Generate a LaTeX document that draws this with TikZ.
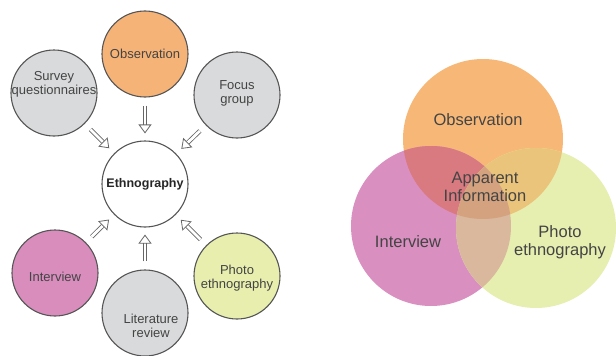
\documentclass[tikz,border=0pt]{standalone}
\usepackage{fontspec}
\setmainfont{Liberation Sans}
\usetikzlibrary{arrows.meta}
\definecolor{bord}{HTML}{555555}
\definecolor{txt}{HTML}{444444}
\definecolor{gfill}{HTML}{D9DADB}
\definecolor{ofill}{HTML}{F6B377}
\definecolor{pfill}{HTML}{D88DBD}
\definecolor{yfill}{HTML}{E8EEAE}
\definecolor{vo}{HTML}{F7B877}
\definecolor{vi}{HTML}{D98FC0}
\definecolor{vp}{HTML}{E6EEB0}
\definecolor{voi}{HTML}{D97A80}
\definecolor{vop}{HTML}{EAC47A}
\definecolor{vip}{HTML}{D9B89E}
\definecolor{voip}{HTML}{D4A27E}
\tikzset{
  circ/.style={circle, draw=bord, line width=1.1pt, minimum size=86pt, inner sep=0pt, align=center, text=txt, font=\fontsize{13}{14}\selectfont},
  ctext/.style={text=txt, align=center, font=\fontsize{13}{14}\selectfont},
  harrow/.style={draw=bord!90, line width=0.8pt, double=white, double distance=2.8pt,
     -{Triangle[open, length=9pt, width=13pt]}, shorten <=8pt, shorten >=7pt},
  vtext/.style={text=txt, align=center, font=\fontsize{16.5}{18}\selectfont}
}
\begin{document}
\begin{tikzpicture}[x=1pt,y=-1pt]
\useasboundingbox (0,0) rectangle (616,356);
% left diagram
\node[circ, fill=ofill] (obs) at (145,54) {Observation};
\node[circ, fill=gfill, label={[ctext, yshift=9pt]center:Survey\\questionnaires}] (sur) at (54,93) {};
\node[circ, fill=gfill, label={[ctext, yshift=2pt]center:Focus\\group}] (foc) at (237,95) {};
\node[circ, fill=white, font=\fontsize{12.5}{13.5}\selectfont\bfseries, text=black!85] (eth) at (145,184) {Ethnography};
\node[circ, fill=pfill, label={[ctext, yshift=-4pt]center:Interview}] (int) at (55,273) {};
\node[circ, fill=gfill, label={[ctext, yshift=-13pt, xshift=6pt]center:Literature\\review}] (lit) at (145,313) {};
\node[circ, fill=yfill, label={[ctext, yshift=-2pt]center:Photo\\ethnography}] (pho) at (237,276) {};
\draw[harrow] (obs) -- (eth);
\draw[harrow] (sur) -- (eth);
\draw[harrow] (foc) -- (eth);
\draw[harrow] (int) -- (eth);
\draw[harrow] (lit) -- (eth);
\draw[harrow] (pho) -- (eth);
% Venn diagram
\coordinate (VO) at (483,139);
\coordinate (VI) at (431,226);
\coordinate (VP) at (536,228);
\def\vr{80}
\fill[vo] (VO) circle (\vr);
\fill[vi] (VI) circle (\vr);
\fill[vp] (VP) circle (\vr);
\begin{scope}\clip (VO) circle (\vr); \fill[voi] (VI) circle (\vr); \end{scope}
\begin{scope}\clip (VO) circle (\vr); \fill[vop] (VP) circle (\vr); \end{scope}
\begin{scope}\clip (VI) circle (\vr); \fill[vip] (VP) circle (\vr); \end{scope}
\begin{scope}\clip (VO) circle (\vr); \clip (VI) circle (\vr); \fill[voip] (VP) circle (\vr); \end{scope}
\node[vtext] (tobs) at (478,120) {Observation};
\node[vtext] (tapp) at (485,187) {Apparent\\Information};
\node[vtext] (tint) at (408,242) {Interview};
\node[vtext] (tpho) at (560,242) {Photo\\ethnography};
\end{tikzpicture}
\end{document}
